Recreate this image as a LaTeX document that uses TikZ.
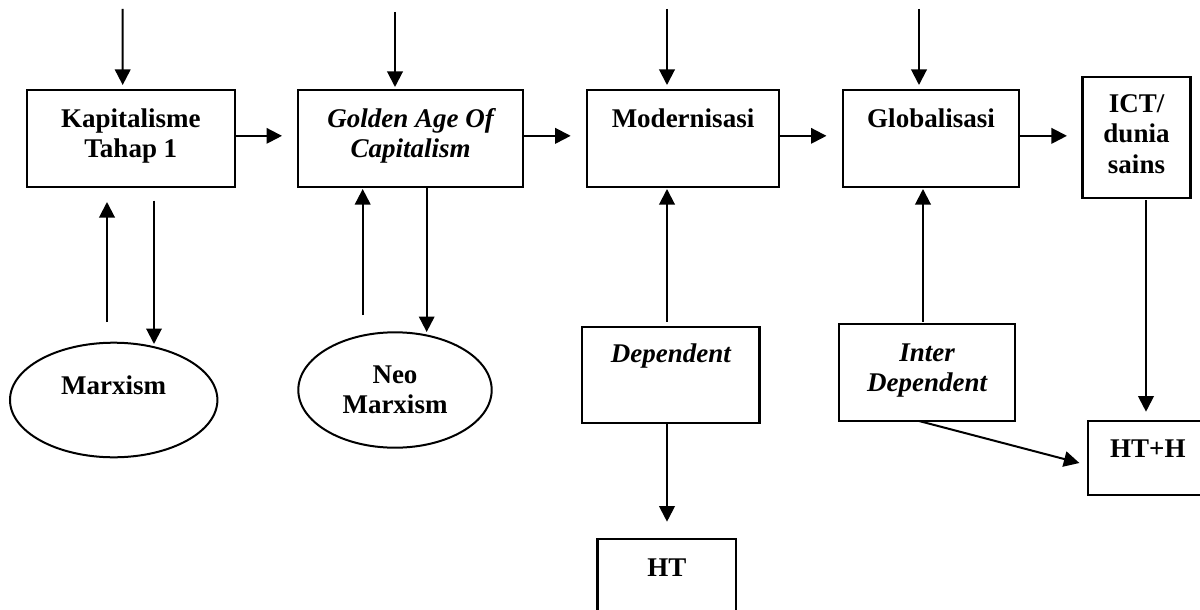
\documentclass[tikz,border=0pt]{standalone}
\usepackage{fontspec}
\setmainfont{Liberation Serif}
\usetikzlibrary{arrows.meta,shapes.geometric}
\newcommand{\mlines}[1]{\begin{tabular}[t]{@{}c@{}}#1\end{tabular}}
\begin{document}
\begin{tikzpicture}[x=1pt,y=-1pt,
  box/.style={draw, line width=2.2pt, rectangle, inner sep=0pt, outer sep=0pt},
  oval/.style={draw, line width=2pt, ellipse, inner sep=0pt, outer sep=0pt},
  lbl/.style={anchor=base, inner sep=0pt, font=\fontsize{27}{30.5}\selectfont\bfseries},
  lbli/.style={anchor=base, inner sep=0pt, font=\fontsize{27}{30.5}\selectfont\bfseries\itshape},
  arr/.style={line width=2pt, -{Triangle[length=15.5pt,width=15.5pt]}}]
\useasboundingbox (0,0) rectangle (1200,610);
\clip (0,0) rectangle (1200,610);
\fill[white] (0,0) rectangle (1200,610);

% boxes
\node[box, minimum width=208.3pt, minimum height=96.7pt] (k) at (130.85,138.35) {};
\node[box, minimum width=225.3pt, minimum height=96.7pt] (g) at (410.65,138.35) {};
\node[box, minimum width=192.6pt, minimum height=96.7pt] (m) at (683,138.35) {};
\node[box, minimum width=176.6pt, minimum height=96.7pt] (gl) at (931,138.35) {};
\node[box, minimum width=108.1pt, minimum height=120.4pt] (ict) at (1136.5,137.5) {};
\node[box, minimum width=177.1pt, minimum height=96.6pt] (dep) at (670.85,375) {};
\node[box, minimum width=176.2pt, minimum height=96.7pt] (inter) at (927.1,372.65) {};
\node[box, minimum width=138.8pt, minimum height=97.4pt] (ht) at (666.9,588) {};
\node[box, minimum width=120.3pt, minimum height=74pt] (hth) at (1147.85,458) {};
\node[oval, minimum width=207.4pt, minimum height=114.6pt] (mx) at (113.7,400) {};
\node[oval, minimum width=193.4pt, minimum height=115.4pt] (nm) at (395,390) {};

% texts
\node[lbl] (kt) at (130.85,127) {\mlines{Kapitalisme\\Tahap 1}};
\node[lbli] (gt) at (410.65,127) {\mlines{Golden Age Of\\Capitalism}};
\node[lbl] (mt) at (683,127.3) {Modernisasi};
\node[lbl] (glt) at (931,127.3) {Globalisasi};
\node[lbl] (ictt) at (1136.5,112.5) {\mlines{ICT/\\dunia\\sains}};
\node[lbli] (dept) at (670.85,362.7) {Dependent};
\node[lbli] (intert) at (927.1,361) {\mlines{Inter\\Dependent}};
\node[lbl] (htt) at (666.9,576) {HT};
\node[lbl] (htht) at (1147.85,457.3) {HT+H};
\node[lbl] (mxt) at (113.7,394) {Marxism};
\node[lbl] (nmt) at (395,383.3) {\mlines{Neo\\Marxism}};

% free ends
\coordinate (t1) at (122.7,9);
\coordinate (t2) at (395,12);
\coordinate (t3) at (667,9);
\coordinate (t4) at (919,9);
\coordinate (ku) at (107,322);
\coordinate (gu) at (362.7,315);

% top arrows
\draw[arr, shorten >=5pt] (t1) -- ([xshift=-8.15pt]k.north);
\draw[arr, shorten >=3pt] (t2) -- ([xshift=-15.65pt]g.north);
\draw[arr, shorten >=5pt] (t3) -- ([xshift=-16pt]m.north);
\draw[arr, shorten >=5pt] (t4) -- ([xshift=-12pt]gl.north);

% horizontal chain
\draw[arr, shorten >=16pt] ([yshift=2.5pt]k.east) -- ([yshift=2.5pt]g.west);
\draw[arr, shorten >=16pt] ([yshift=2.5pt]g.east) -- ([yshift=2.5pt]m.west);
\draw[arr, shorten >=16.2pt] ([yshift=2.5pt]m.east) -- ([yshift=2.5pt]gl.west);
\draw[arr, shorten >=15.5pt] ([yshift=2.5pt]gl.east) -- ([yshift=1.65pt]ict.west);

% Marxism loops
\draw[arr, shorten >=15.3pt] (ku) -- ([xshift=-23.85pt]k.south);
\draw[arr, shorten <=14pt] ([xshift=23.15pt]k.south) -- ([xshift=40.3pt,yshift=-1.3pt]mx.north);
\draw[arr, shorten >=2.3pt] (gu) -- ([xshift=-47.95pt]g.south);
\draw[arr] ([xshift=16.05pt]g.south) -- ([xshift=31.7pt,yshift=0.3pt]nm.north);

% lower part
\draw[arr, shorten >=2.3pt] ([xshift=-3.85pt,yshift=5pt]dep.north) -- ([xshift=-16pt]m.south);
\draw[arr, shorten >=2.3pt] ([xshift=-4.1pt,yshift=2.6pt]inter.north) -- ([xshift=-8pt]gl.south);
\draw[arr, shorten <=2.3pt, shorten >=9.3pt] ([xshift=9.5pt]ict.south) -- ([xshift=-1.85pt]hth.north);
\draw[arr, shorten >=17.6pt] ([xshift=-3.85pt]dep.south) -- ([xshift=0.1pt]ht.north);
\draw[arr] ([xshift=-8.1pt]inter.south) -- ([xshift=-8.3pt,yshift=-5pt]hth.west);
\end{tikzpicture}
\end{document}
